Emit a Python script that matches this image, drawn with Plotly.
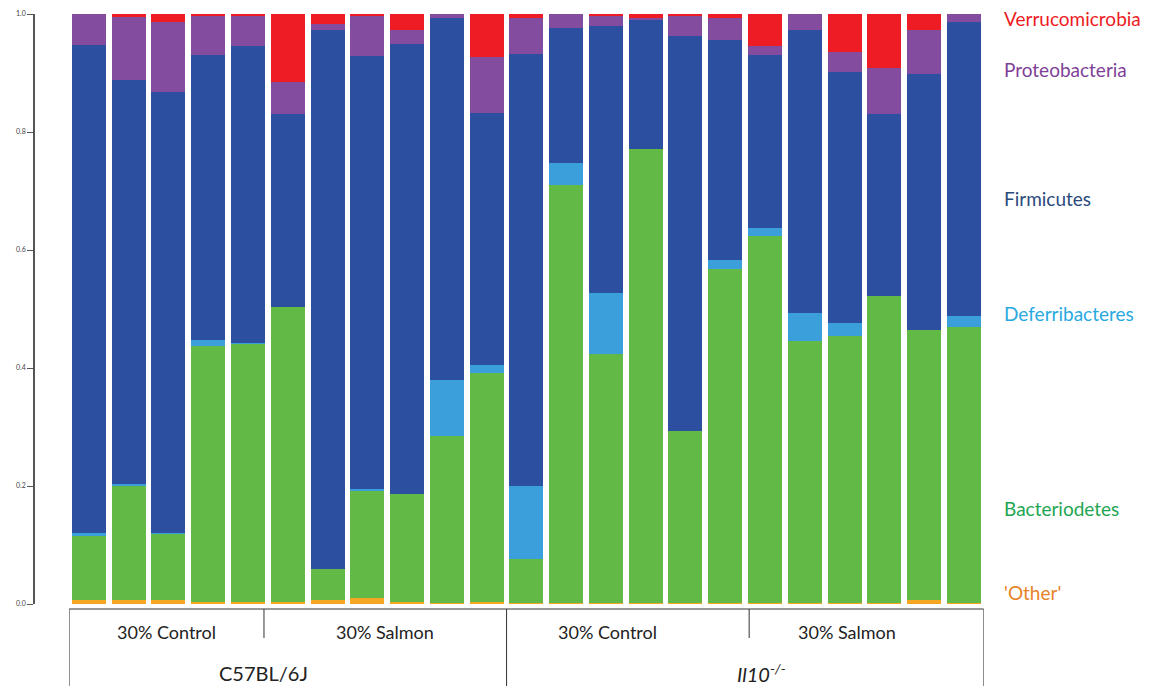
import plotly.graph_objects as go

# Relative abundance of phyla per mouse (23 samples), stacked bottom to top
strain = ["C57BL/6J"] * 11 + ["Il10-/-"] * 12
diet = (["30% Control"] * 5 + ["30% Salmon"] * 6 +
        ["30% Control"] * 6 + ["30% Salmon"] * 6)
samples = list(range(23))

other = [0.006, 0.006, 0.006, 0.004, 0.004, 0.003, 0.007, 0.010, 0.003, 0.001, 0.003,
         0.001, 0.001, 0.001, 0.001, 0.001, 0.001, 0.001, 0.001, 0.001, 0.001, 0.006, 0.001]
bacteriodetes = [0.109, 0.194, 0.114, 0.433, 0.437, 0.500, 0.053, 0.183, 0.183, 0.284, 0.388,
                 0.075, 0.709, 0.422, 0.770, 0.292, 0.567, 0.623, 0.444, 0.454, 0.521, 0.458, 0.468]
deferribacteres = [0.006, 0.003, 0.001, 0.010, 0.002, 0.0, 0.0, 0.002, 0.0, 0.095, 0.014,
                   0.124, 0.038, 0.104, 0.0, 0.0, 0.015, 0.013, 0.049, 0.021, 0.0, 0.0, 0.019]
firmicutes = [0.826, 0.685, 0.747, 0.483, 0.502, 0.327, 0.913, 0.733, 0.764, 0.614, 0.427,
              0.732, 0.229, 0.452, 0.219, 0.670, 0.373, 0.294, 0.479, 0.425, 0.308, 0.435, 0.498]
proteobacteria = [0.053, 0.107, 0.118, 0.067, 0.051, 0.055, 0.010, 0.070, 0.023, 0.006, 0.095,
                  0.062, 0.023, 0.019, 0.003, 0.035, 0.038, 0.014, 0.027, 0.034, 0.078, 0.074, 0.014]
verrucomicrobia = [0.0, 0.005, 0.014, 0.003, 0.004, 0.115, 0.017, 0.002, 0.027, 0.0, 0.073,
                   0.006, 0.0, 0.002, 0.007, 0.002, 0.006, 0.055, 0.0, 0.065, 0.092, 0.027, 0.0]

y_ticks = [0.0, 0.2, 0.4, 0.6, 0.8, 1.0]

series = [
    ("'Other'", other, "#F5A623", "#E8832A", 592),
    ("Bacteriodetes", bacteriodetes, "#62B946", "#22A552", 508),
    ("Deferribacteres", deferribacteres, "#3A9FDA", "#29A9E0", 313),
    ("Firmicutes", firmicutes, "#2C4FA0", "#2B4A7C", 198),
    ("Proteobacteria", proteobacteria, "#834C9E", "#7F3F98", 70),
    ("Verrucomicrobia", verrucomicrobia, "#EE1C25", "#ED1C24", 18),
]

W, H = 1157, 688
FONT = "Lato, 'Open Sans', sans-serif"


def py(pix):
    """Pixel row -> paper y coordinate."""
    return 1 - pix / H


fig = go.Figure()
for name, vals, col, _, _ in series:
    fig.add_trace(go.Bar(x=samples, y=vals, name=name, width=0.855,
                         marker=dict(color=col, line=dict(width=0))))

# Phylum labels at right
for name, _, _, tcol, ypix in series:
    fig.add_annotation(x=1002 / W, y=py(ypix), xref="paper", yref="paper",
                       text=name, showarrow=False, xanchor="left", yanchor="middle",
                       font=dict(family=FONT, size=19, color=tcol))

# Group bracket below the bars
line = dict(color="#333333", width=1)
top_pix, mid_pix, bot_pix = 609, 638, 686
fig.add_shape(type="line", xref="x", yref="paper", x0=-0.5, x1=22.5,
              y0=py(top_pix), y1=py(top_pix), line=line)
for xb in (-0.5, 10.5, 22.5):
    fig.add_shape(type="line", xref="x", yref="paper", x0=xb, x1=xb,
                  y0=py(top_pix), y1=py(bot_pix), line=line)
for xb in (4.4, 16.6):
    fig.add_shape(type="line", xref="x", yref="paper", x0=xb, x1=xb,
                  y0=py(top_pix), y1=py(mid_pix), line=line)

group_labels = [(1.95, "30% Control"), (7.45, "30% Salmon"),
                (13.05, "30% Control"), (19.05, "30% Salmon")]
for xc, txt in group_labels:
    fig.add_annotation(x=xc, y=py(632), xref="x", yref="paper", text=txt,
                       showarrow=False, xanchor="center", yanchor="middle",
                       font=dict(family=FONT, size=18, color="#222222"))

strain_labels = [(4.4, "C57BL/6J"), (16.9, "<i>Il10</i><sup><i>-/-</i></sup>")]
for xc, txt in strain_labels:
    fig.add_annotation(x=xc, y=py(673), xref="x", yref="paper", text=txt,
                       showarrow=False, xanchor="center", yanchor="middle",
                       font=dict(family=FONT, size=20, color="#222222"))

fig.update_layout(
    width=W, height=H,
    margin=dict(l=0, r=0, t=0, b=0, pad=0),
    paper_bgcolor="white", plot_bgcolor="white",
    barmode="stack", bargap=0, showlegend=False,
    xaxis=dict(domain=[69.1 / W, 983.8 / W], range=[-0.5, 22.5],
               showticklabels=False, showgrid=False, zeroline=False,
               showline=False, ticks="", automargin=False),
    yaxis=dict(domain=[py(604), py(14)], range=[0, 1],
               anchor="free", position=34 / W, automargin=False,
               tickvals=y_ticks, tickformat=".1f",
               ticks="outside", ticklen=6, tickcolor="#555555",
               showline=True, linecolor="#555555", linewidth=1.5,
               showgrid=False, zeroline=False,
               tickfont=dict(family=FONT, size=7, color="#444444")),
)

fig.write_html("out.html")
